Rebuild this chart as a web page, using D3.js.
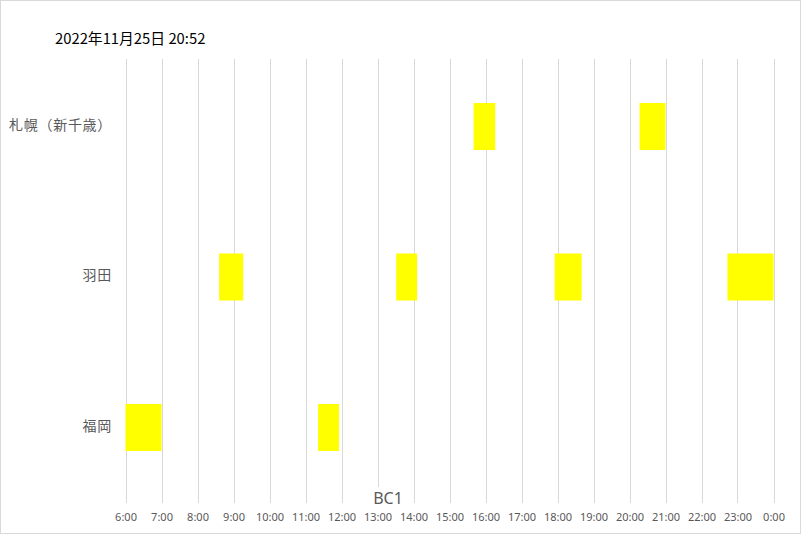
<!DOCTYPE html>
<html><head><meta charset="utf-8">
<script src="https://cdn.jsdelivr.net/npm/d3@7"></script>
<style>body{margin:0;background:#fff}svg{display:block}</style>
</head><body>
<script>
const title = "2022年11月25日 20:52";
const axisTitle = "BC1";
const categories = ["札幌（新千歳）", "羽田", "福岡"];
const tickLabels = ["6:00","7:00","8:00","9:00","10:00","11:00","12:00","13:00","14:00","15:00","16:00","17:00","18:00","19:00","20:00","21:00","22:00","23:00","0:00"];
// bars: airport, start hour, end hour
const barAirport = ["札幌（新千歳）","札幌（新千歳）","羽田","羽田","羽田","羽田","福岡","福岡"];
const barStart = [15.67, 20.28, 8.6, 13.52, 17.92, 22.72, 6.0, 11.35];
const barEnd   = [16.27, 21.0, 9.27, 14.1, 18.67, 24.0, 7.0, 11.93];

const W = 801, H = 534;
const svg = d3.select("body").append("svg").attr("width", W).attr("height", H);
svg.append("rect").attr("x",0.5).attr("y",0.5).attr("width",W-1).attr("height",H-1)
  .attr("fill","#fff").attr("stroke","#d9d9d9");

const x = d3.scaleLinear().domain([6, 24]).range([125.5, 773.5]);
const y = d3.scaleBand().domain(categories).range([51.25, 502.75]);
const barH = 47;

// gridlines
const hours = d3.range(6, 25);
svg.append("g").selectAll("line").data(hours).join("line")
  .attr("x1", d => Math.round(x(d)) + 0.5).attr("x2", d => Math.round(x(d)) + 0.5)
  .attr("y1", 59).attr("y2", 503)
  .attr("stroke", "#d9d9d9").attr("stroke-width", 1);

// bars
svg.append("g").selectAll("rect").data(barStart).join("rect")
  .attr("x", (d,i) => x(barStart[i]))
  .attr("width", (d,i) => x(barEnd[i]) - x(barStart[i]))
  .attr("y", (d,i) => y(barAirport[i]) + y.bandwidth()/2 - barH/2)
  .attr("height", barH)
  .attr("fill", "#ffff00");

// x axis labels
const xAxis = d3.axisBottom(x).tickValues(hours).tickSize(0).tickFormat((d,i) => tickLabels[i]);
const gx = svg.append("g").attr("transform","translate(0,510)").call(xAxis);
gx.select(".domain").remove();
gx.selectAll("text").attr("fill","#595959").attr("font-size","11px")
  .attr("font-family","'Noto Sans', 'DejaVu Sans', sans-serif").attr("dy","0.71em");

// y axis labels
const yAxis = d3.axisLeft(y).tickSize(0).tickPadding(0);
const gy = svg.append("g").attr("transform","translate(112,-1)").call(yAxis);
gy.select(".domain").remove();
gy.selectAll("text").attr("fill","#595959").attr("font-size","14px")
  .attr("letter-spacing","0.7px")
  .attr("font-family","'Noto Sans CJK JP', sans-serif");

// axis title
svg.append("rect").attr("x",370).attr("y",487).attr("width",36).attr("height",18).attr("fill","#fff");
svg.append("text").attr("x", 388).attr("y", 504).attr("text-anchor","middle")
  .attr("fill","#595959").attr("font-size","16px")
  .attr("font-family","'Noto Sans', sans-serif").text(axisTitle);

// title
svg.append("text").attr("x", 55).attr("y", 43.5)
  .attr("fill","#000").attr("font-size","14.8px")
  .attr("font-family","'Noto Sans CJK JP', sans-serif").text(title);
</script>
</body></html>
